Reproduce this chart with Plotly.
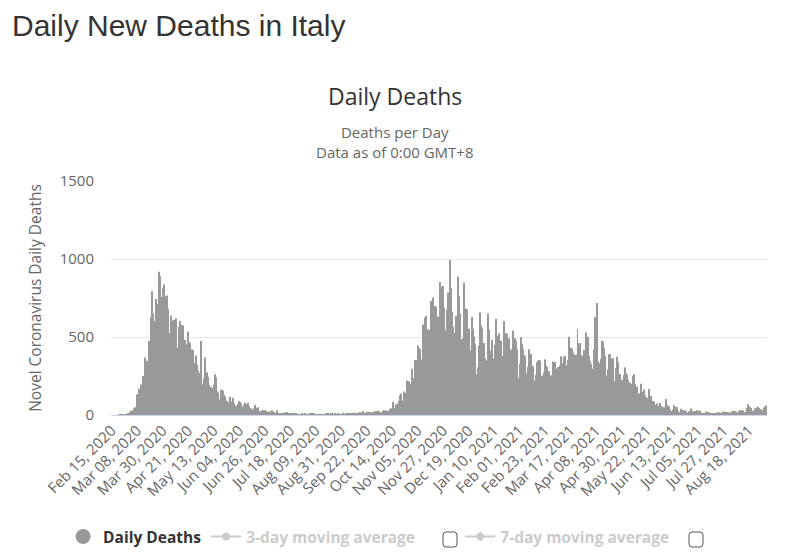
import pandas as pd
import plotly.graph_objects as go

# Daily new deaths in Italy (one value per day)
deaths_2020_feb = [0, 0, 0, 0, 0, 0, 1, 1, 1, 4, 4, 1, 5, 4, 8]
deaths_2020_mar = [5, 18, 27, 28, 41, 49, 36, 133, 97, 168, 196, 189, 250, 175, 368, 349,
                   345, 475, 427, 627, 793, 651, 601, 743, 683, 712, 919, 889, 756, 812, 837]
deaths_2020_apr = [727, 760, 766, 681, 525, 636, 604, 542, 610, 570, 619, 431, 566, 602, 578,
                   525, 575, 482, 433, 454, 534, 437, 464, 420, 415, 260, 333, 382, 323, 285]
deaths_2020_may = [269, 474, 174, 195, 236, 369, 274, 243, 194, 165, 179, 172, 195, 262, 242,
                   153, 145, 99, 162, 161, 156, 130, 119, 50, 92, 78, 117, 70, 87, 111, 75]
deaths_2020_jun = [60, 55, 71, 88, 85, 72, 53, 65, 79, 71, 53, 78, 56, 44, 26,
                   34, 43, 66, 47, 49, 24, 23, 18, 30, 30, 30, 8, 24, 6, 23]
deaths_2020_jul = [21, 30, 15, 21, 7, 8, 30, 15, 12, 12, 7, 7, 13, 17, 20, 11,
                   9, 12, 3, 13, 15, 9, 10, 5, 5, 5, 3, 11, 6, 3, 9]
deaths_2020_aug = [3, 5, 3, 10, 6, 9, 3, 13, 4, 2, 6, 6, 3, 2, 6, 4,
                   4, 7, 6, 7, 3, 9, 7, 4, 4, 13, 5, 9, 1, 4, 4]
deaths_2020_sep = [6, 10, 6, 10, 7, 7, 8, 10, 10, 10, 5, 14, 7, 9, 14,
                   20, 10, 10, 24, 14, 15, 20, 19, 20, 17, 17, 16, 24, 17, 24]
deaths_2020_oct = [23, 27, 23, 16, 18, 28, 31, 28, 22, 29, 26, 39, 41, 43, 83, 47,
                   69, 47, 73, 89, 127, 136, 91, 151, 128, 141, 221, 205, 217, 199, 297]
deaths_2020_nov = [233, 235, 353, 352, 445, 426, 425, 331, 356, 580, 623, 636, 550, 544, 546,
                   504, 731, 753, 699, 699, 692, 562, 630, 853, 722, 822, 827, 686, 541, 672]
deaths_2020_dec = [785, 684, 993, 814, 662, 564, 528, 634, 499, 887, 761, 649, 484, 491, 846, 680,
                   683, 674, 553, 352, 415, 628, 553, 505, 459, 261, 305, 445, 659, 575, 555]
deaths_2021_jan = [462, 364, 347, 348, 649, 548, 414, 483, 361, 361, 448, 616, 507, 522, 475, 477,
                   377, 377, 603, 524, 521, 472, 492, 299, 420, 541, 467, 492, 477, 421, 237]
deaths_2021_feb = [329, 499, 456, 421, 385, 377, 266, 307, 422, 336, 391, 316, 311, 221,
                   258, 336, 347, 353, 347, 251, 232, 274, 356, 318, 308, 280, 253, 237]
deaths_2021_mar = [255, 343, 339, 339, 297, 307, 207, 318, 376, 332, 373, 380, 317, 264, 354, 502,
                   431, 423, 401, 386, 300, 386, 551, 460, 460, 380, 380, 297, 417, 529, 467]
deaths_2021_apr = [501, 376, 344, 326, 296, 421, 627, 487, 718, 344, 331, 360, 476, 469, 429,
                   380, 251, 293, 390, 390, 344, 360, 364, 217, 301, 373, 339, 262, 263, 226]
deaths_2021_may = [144, 256, 305, 267, 258, 224, 207, 139, 198, 251, 262, 201, 182, 136, 93, 140,
                   201, 149, 164, 126, 110, 72, 110, 166, 121, 86, 89, 83, 44, 65, 73]
deaths_2021_jun = [59, 77, 59, 51, 26, 49, 102, 65, 52, 56, 35, 26, 36, 63, 52,
                   37, 52, 28, 17, 40, 21, 31, 30, 21, 28, 14, 22, 24, 42, 28]
deaths_2021_jul = [21, 25, 12, 31, 13, 28, 25, 10, 13, 7, 7, 22, 13, 19, 14, 7,
                   12, 3, 10, 11, 15, 18, 16, 8, 5, 17, 22, 15, 19, 5, 20]
deaths_2021_aug = [11, 20, 21, 27, 24, 22, 22, 11, 24, 31, 27, 31, 29, 18, 22, 45,
                   69, 55, 49, 45, 29, 24, 41, 47, 46, 53, 45, 37, 30, 30, 48]
deaths_2021_sep = [51, 61]

first_day = '2020-02-15'
tick_every = 22
y_ticks = [0, 500, 1000, 1500]

deaths = (deaths_2020_feb + deaths_2020_mar + deaths_2020_apr + deaths_2020_may
          + deaths_2020_jun + deaths_2020_jul + deaths_2020_aug + deaths_2020_sep
          + deaths_2020_oct + deaths_2020_nov + deaths_2020_dec + deaths_2021_jan
          + deaths_2021_feb + deaths_2021_mar + deaths_2021_apr + deaths_2021_may
          + deaths_2021_jun + deaths_2021_jul + deaths_2021_aug + deaths_2021_sep)

df = pd.DataFrame({'deaths': deaths})
df['day'] = pd.date_range(first_day, periods=len(df), freq='D').strftime('%b %d, %Y')
df['ma3'] = df['deaths'].rolling(3).mean()
df['ma7'] = df['deaths'].rolling(7).mean()


def rounded_box(x0, y0, x1, y1, rx, ry):
    return (f'M {x0 + rx},{y0} L {x1 - rx},{y0} Q {x1},{y0} {x1},{y0 + ry} '
            f'L {x1},{y1 - ry} Q {x1},{y1} {x1 - rx},{y1} L {x0 + rx},{y1} '
            f'Q {x0},{y1} {x0},{y1 - ry} L {x0},{y0 + ry} Q {x0},{y0} {x0 + rx},{y0} Z')


fig = go.Figure()

fig.add_trace(go.Bar(
    x=df['day'],
    y=df['deaths'],
    name='Daily Deaths',
    legendgroup='daily',
    showlegend=False,
    marker=dict(color='#999999', line=dict(width=0)),
))

# legend entry with a round symbol, like the original
fig.add_trace(go.Scatter(
    x=[None], y=[None],
    mode='markers',
    name='Daily Deaths',
    legendgroup='daily',
    marker=dict(color='#999999', size=15, symbol='circle'),
))

fig.add_trace(go.Scatter(
    x=df['day'], y=df['ma3'],
    mode='lines+markers',
    name='<span style="color:#999999">3-day moving average</span>' + '\u00a0' * 10,
    visible='legendonly',
    line=dict(color='#999999', width=2),
    marker=dict(symbol='circle', size=8),
))

fig.add_trace(go.Scatter(
    x=df['day'], y=df['ma7'],
    mode='lines+markers',
    name='<span style="color:#999999">7-day moving average</span>',
    visible='legendonly',
    line=dict(color='#999999', width=2),
    marker=dict(symbol='diamond', size=8),
))

# the two check boxes next to the moving average entries
box_color = '#555555'
for bx0, bx1 in [(0.5061, 0.5274), (0.8811, 0.9024)]:
    fig.add_shape(
        type='path',
        xref='paper', yref='paper',
        path=rounded_box(bx0, -0.5641, bx1, -0.5, 0.0046, 0.0128),
        line=dict(color=box_color, width=1),
    )

fig.add_annotation(
    text='Daily Deaths',
    xref='paper', yref='paper', x=0.433, y=1.363,
    xanchor='center', yanchor='middle',
    showarrow=False,
    font=dict(family='Open Sans', size=23, color='#333333'),
)
fig.add_annotation(
    text='Deaths per Day<br>Data as of 0:00 GMT+8',
    xref='paper', yref='paper', x=0.433, y=1.165,
    xanchor='center', yanchor='middle',
    showarrow=False,
    font=dict(family='Open Sans', size=15, color='#666666'),
)

fig.update_layout(
    width=782,
    height=549,
    margin=dict(l=103, r=23, t=173, b=142, autoexpand=False),
    plot_bgcolor='#ffffff',
    paper_bgcolor='#ffffff',
    font=dict(family='Open Sans', size=14, color='#666666'),
    title=dict(
        text='Daily New Deaths in Italy',
        x=4 / 782, xref='container', xanchor='left',
        y=1 - 17 / 549, yref='container', yanchor='middle',
        font=dict(family='Liberation Sans', size=30, color='#333333'),
    ),
    bargap=0.15,
    legend=dict(
        orientation='h',
        x=-0.073, xanchor='left',
        y=-0.521, yanchor='middle',
        bgcolor='rgba(0,0,0,0)',
        font=dict(family='Open Sans', size=15.5, color='#333333', weight='bold'),
    ),
)

fig.update_xaxes(
    type='category',
    tickmode='array',
    tickvals=df['day'][::tick_every],
    ticktext=df['day'][::tick_every],
    tickangle=-45,
    tickfont=dict(size=15, color='#666666'),
    showline=True,
    linecolor='#ccd6eb',
    linewidth=1,
    showgrid=False,
    ticks='',
    automargin=False,
)

fig.update_yaxes(
    range=[0, 1500],
    tickvals=y_ticks,
    tickfont=dict(size=15, color='#666666'),
    gridcolor='#e6e6e6',
    zeroline=False,
    showline=False,
    ticklabelstandoff=16,
    title=dict(text='Novel Coronavirus Daily Deaths', font=dict(size=15.5, color='#666666'), standoff=14),
    automargin=False,
)

fig.write_html("out.html")
